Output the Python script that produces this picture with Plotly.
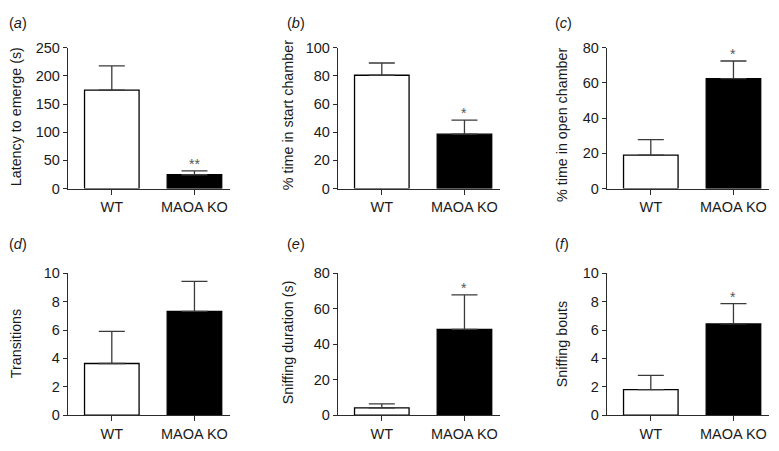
import plotly.graph_objects as go
from plotly.subplots import make_subplots

groups = ["WT", "MAOA KO"]

latency = [175, 24.5]
latency_err = [43, 7]
start_pct = [80.5, 38.6]
start_err = [8.7, 10]
open_pct = [19, 62.5]
open_err = [8.8, 10]
transitions = [3.64, 7.32]
transitions_err = [2.27, 2.11]
sniff_dur = [4.0, 48.4]
sniff_dur_err = [2.3, 19.5]
sniff_bouts = [1.8, 6.43]
sniff_bouts_err = [1.0, 1.43]

panels = [
    ("a", "Latency to emerge (s)", latency, latency_err, 250, 50, "**"),
    ("b", "% time in start chamber", start_pct, start_err, 100, 20, "*"),
    ("c", "% time in open chamber", open_pct, open_err, 80, 20, "*"),
    ("d", "Transitions", transitions, transitions_err, 10, 2, ""),
    ("e", "Sniffing duration (s)", sniff_dur, sniff_dur_err, 80, 20, "*"),
    ("f", "Sniffing bouts", sniff_bouts, sniff_bouts_err, 10, 2, "*"),
]

# the page body has an 8px margin, so the figure sits at (8, 8)
OFF = 8
W, H = 779 - OFF, 451 - OFF
FONT = "Liberation Sans, Arial, sans-serif"
AX = "#2b2b2b"
TXT = "#1a1a1a"


def px_x(p):
    return (p - OFF) / W


def px_y(p):
    return 1 - (p - OFF) / H


# pixel layout (window coordinates)
col_left = [68, 338, 607]
col_width = 162
row_top = [41, 275]
row_bottom = [187, 422]
title_x = [16, 288, 562]
title_dy = [-1, -3, 7, 0, -2, 0]
tag_x = [7, 285, 553]
tag_y = [15, 245]

fig = make_subplots(rows=2, cols=3)

for i, (tag, ytitle, vals, errs, ymax, dtick, star) in enumerate(panels):
    r, c = divmod(i, 3)
    fig.add_trace(
        go.Bar(
            x=groups, y=vals, width=0.66,
            marker=dict(color=["white", "black"], line=dict(color="black", width=1.3)),
            error_y=dict(type="data", symmetric=False, array=errs, arrayminus=[0, 0],
                         color="#3a3a3a", thickness=1.3, width=13),
            showlegend=False,
        ),
        row=r + 1, col=c + 1,
    )
    n = i + 1
    xa = "xaxis" if n == 1 else f"xaxis{n}"
    ya = "yaxis" if n == 1 else f"yaxis{n}"
    y0, y1 = px_y(row_bottom[r]), px_y(row_top[r])
    fig.layout[xa].update(
        domain=[px_x(col_left[c]), px_x(col_left[c] + col_width)],
        range=[-0.53, 1.43], type="category",
        showline=True, linecolor=AX, linewidth=1.3,
        ticks="outside", ticklen=5, tickwidth=1.3, tickcolor=AX,
        showgrid=False, zeroline=False,
        tickfont=dict(family=FONT, size=14.5, color=TXT),
    )
    fig.layout[ya].update(
        domain=[y0, y1], range=[0, ymax], dtick=dtick,
        showline=True, linecolor=AX, linewidth=1.3,
        ticks="outside", ticklen=4, tickwidth=1.3, tickcolor=AX,
        showgrid=False, zeroline=False,
        tickfont=dict(family=FONT, size=14.5, color=TXT),
    )
    xref = "x" if n == 1 else f"x{n}"
    yref = "y" if n == 1 else f"y{n}"
    mid = (row_top[r] + row_bottom[r]) / 2 + title_dy[i]
    fig.add_annotation(
        x=px_x(title_x[c]), y=px_y(mid), xref="paper", yref="paper",
        text=ytitle, textangle=-90, showarrow=False,
        font=dict(family=FONT, size=14.3, color=TXT),
        xanchor="center", yanchor="middle",
    )
    fig.add_annotation(
        x=px_x(tag_x[c]), y=px_y(tag_y[r]), xref="paper", yref="paper",
        text=f"(<i>{tag}</i>)", showarrow=False,
        font=dict(family=FONT, size=14.5, color=TXT),
        xanchor="left", yanchor="middle",
    )
    if star:
        fig.add_annotation(
            x=groups[1], y=vals[1] + errs[1], xref=xref, yref=yref,
            text=star, showarrow=False, yanchor="bottom", yshift=-3,
            font=dict(family=FONT, size=14, color="#555"),
        )

fig.update_layout(
    width=W, height=H,
    margin=dict(l=0, r=0, t=0, b=0),
    paper_bgcolor="white", plot_bgcolor="white",
)

fig.write_html("out.html")
